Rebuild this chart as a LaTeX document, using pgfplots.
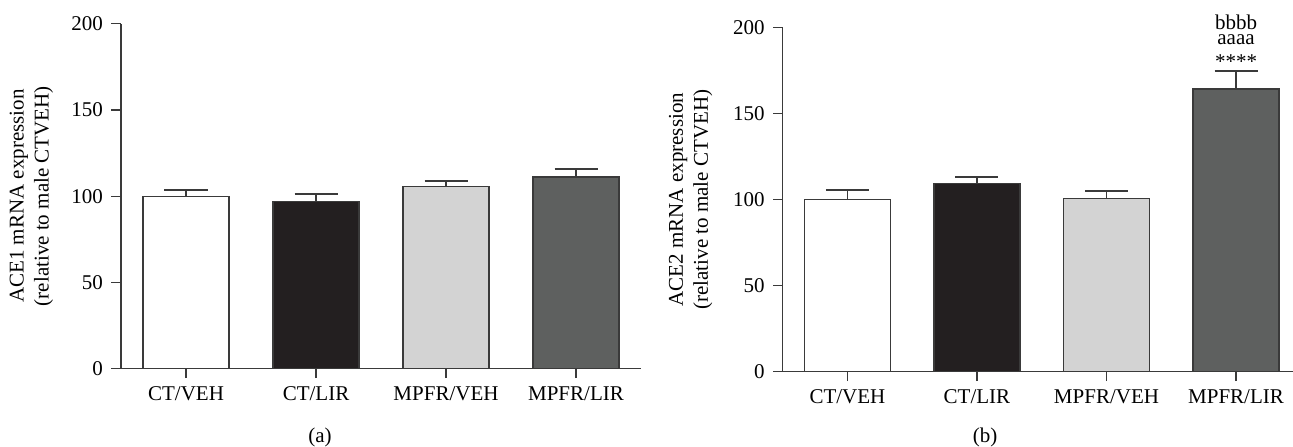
\documentclass[border=0pt]{standalone}
\usepackage{fontspec}
\setmainfont{Liberation Serif}
\usepackage{pgfplots}
\pgfplotsset{compat=1.18}
\definecolor{barblack}{HTML}{231F20}
\definecolor{barlight}{HTML}{D3D3D3}
\definecolor{bardark}{HTML}{5E605F}
\definecolor{linec}{HTML}{3A3A3A}
\pgfplotsset{
  mystyle/.style={
    scale only axis,
    xmin=-0.5, ymin=0, ymax=200,
    axis x line*=bottom, axis y line*=left,
    axis line style={linec, line width=1.3pt},
    tick style={linec, line width=1.3pt},
    tick align=outside,
    major tick length=9.5pt,
    xtick={0,1,2,3},
    xticklabels={CT/VEH,CT/LIR,MPFR/VEH,MPFR/LIR},
    ytick={0,50,100,150,200},
    /pgf/number format/assume math mode=true,
    ticklabel style={font=\fontsize{21}{25}\selectfont},
    xticklabel style={yshift=-5pt},
    yticklabel style={xshift=-5pt},
    label style={font=\fontsize{21}{25}\selectfont, align=center},
    clip=false,
    bar shift=0pt,
    bar width=86pt,
  },
  mybar/.style={ybar, draw=linec, line width=1.3pt, fill=#1,
    error bars/.cd, y dir=plus, y explicit,
    error bar style={linec, line width=1.3pt},
    error mark options={rotate=90, linec, line width=2pt, mark size=21.5pt}},
}
\begin{document}
\begin{tikzpicture}
\begin{axis}[mystyle, at={(121pt,78.3pt)}, anchor=south west,
  width=520pt, height=345pt, xmax=3.5,
  ylabel={ACE1 mRNA expression\\(relative to male CTVEH)},
  ylabel style={at={(axis description cs:0,0.5)}, anchor=center, yshift=89.5pt}]
\addplot[mybar=white] coordinates {(0,100) +- (0,3.8)};
\addplot[mybar=barblack] coordinates {(1,96.8) +- (0,4.5)};
\addplot[mybar=barlight] coordinates {(2,105.5) +- (0,3.3)};
\addplot[mybar=bardark] coordinates {(3,111.1) +- (0,4.7)};
\end{axis}
\begin{axis}[mystyle, at={(782.7pt,75.3pt)}, anchor=south west,
  width=510.3pt, height=344pt, xmax=3.44,
  ylabel={ACE2 mRNA expression\\(relative to male CTVEH)},
  ylabel style={at={(axis description cs:0,0.5)}, anchor=center, yshift=92pt}]
\addplot[mybar=white] coordinates {(0,100) +- (0,5.6)};
\addplot[mybar=barblack] coordinates {(1,109.3) +- (0,4.1)};
\addplot[mybar=barlight] coordinates {(2,100.6) +- (0,4.5)};
\addplot[mybar=bardark] coordinates {(3,164.4) +- (0,10.6)};
\node[anchor=south, align=center, font=\fontsize{21}{15}\selectfont, inner sep=0pt]
  at (axis cs:3,176) {bbbb\\aaaa\\[9pt]****};
\end{axis}
\node[anchor=base, font=\fontsize{21}{25}\selectfont, inner sep=0pt] at (320pt,5pt) {(a)};
\node[anchor=base, font=\fontsize{21}{25}\selectfont, inner sep=0pt] at (985pt,5pt) {(b)};
\pgfresetboundingbox
\path[use as bounding box] (0,0) rectangle (1293pt,447pt);
\end{tikzpicture}
\end{document}
